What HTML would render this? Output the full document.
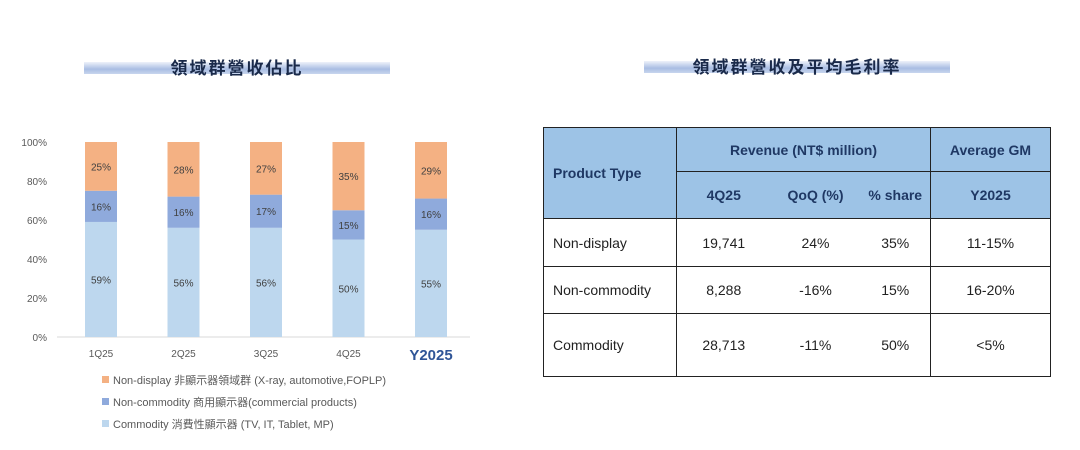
<!DOCTYPE html>
<html><head><meta charset="utf-8"><style>
body{margin:0;width:1080px;height:450px;background:#fff;position:relative;overflow:hidden;font-family:"Liberation Sans","Noto Sans CJK TC",sans-serif}
.tb{position:absolute;height:12px;background:linear-gradient(#eef2fa,#a9bde3 60%,#c8d5ee)}
.tt{position:absolute;font-size:17px;font-weight:bold;color:#1a2a4a;text-align:center;letter-spacing:2px;font-family:"Noto Sans CJK TC",sans-serif}
table{position:absolute;left:543px;top:127px;width:507px;table-layout:fixed;border-collapse:collapse;font-size:14px;color:#222}
td{border:1.5px solid #222;padding:0;text-align:center;white-space:nowrap;overflow:hidden}
.h{background:#9dc3e6;color:#1f3864;font-weight:bold}
.nb{border-left:none;border-right:none}
</style></head><body>
<div class="tb" style="left:84px;top:62px;width:306px"></div>
<div class="tt" style="left:84px;top:54px;width:306px">領域群營收佔比</div>
<div class="tb" style="left:644px;top:61px;width:306px"></div>
<div class="tt" style="left:644px;top:53px;width:306px">領域群營收及平均毛利率</div>
<svg id="chart" width="480" height="450" style="position:absolute;left:0;top:0"></svg>
<table>
<colgroup><col style="width:133px"><col style="width:94px"><col style="width:90px"><col style="width:70px"><col style="width:120px"></colgroup>
<tr style="height:44px"><td class="h" rowspan="2" style="text-align:left;padding-left:9px">Product Type</td><td class="h" colspan="3">Revenue (NT$ million)</td><td class="h">Average GM</td></tr>
<tr style="height:47px"><td class="h" style="border-right:none">4Q25</td><td class="h" style="border-left:none;border-right:none">QoQ (%)</td><td class="h" style="border-left:none">% share</td><td class="h">Y2025</td></tr>
<tr style="height:48px"><td style="text-align:left;padding-left:9px">Non-display</td><td style="border-right:none">19,741</td><td class="nb">24%</td><td style="border-left:none">35%</td><td>11-15%</td></tr>
<tr style="height:47px"><td style="text-align:left;padding-left:9px">Non-commodity</td><td style="border-right:none">8,288</td><td class="nb">-16%</td><td style="border-left:none">15%</td><td>16-20%</td></tr>
<tr style="height:63px"><td style="text-align:left;padding-left:9px">Commodity</td><td style="border-right:none">28,713</td><td class="nb">-11%</td><td style="border-left:none">50%</td><td>&lt;5%</td></tr>
</table>
<script>
const categories=["1Q25","2Q25","3Q25","4Q25","Y2025"];
const commodity=[59,56,56,50,55];
const nonCommodity=[16,16,17,15,16];
const nonDisplay=[25,28,27,35,29];
const yTicks=[0,20,40,60,80,100];
const legendLabels=["Non-display 非顯示器領域群 (X-ray, automotive,FOPLP)","Non-commodity 商用顯示器(commercial products)","Commodity 消費性顯示器 (TV, IT, Tablet, MP)"];
const NS="http://www.w3.org/2000/svg";
const svg=document.getElementById('chart');
const y0=337,y1=142;
const yS=v=>y0-(y0-y1)*v/100;
const xC=i=>101+i*82.5;
const bw=32;
function mk(t,a,p){const e=document.createElementNS(NS,t);for(const k in a)e.setAttribute(k,a[k]);(p||svg).appendChild(e);return e;}
const tf='font-family:"Liberation Sans",sans-serif;font-size:10px;fill:#595959';
yTicks.forEach(v=>{const t=mk('text',{x:47,y:yS(v)+4,'text-anchor':'end',style:tf});t.textContent=v+'%';

});
const ax=mk('line',{x1:57,x2:470,y1:y0,y2:y0,stroke:'#d9d9d9','stroke-width':1});


const series=[[commodity,'#bdd7ee','commodity'],[nonCommodity,'#8faadc','non-commodity'],[nonDisplay,'#f4b183','non-display']];
categories.forEach((c,i)=>{let acc=0;
series.forEach(([vals,col,nm])=>{const v=vals[i];const top=yS(acc+v),bot=yS(acc);
const r=mk('rect',{x:xC(i)-bw/2,y:top,width:bw,height:bot-top,fill:col});


const t=mk('text',{x:xC(i),y:(top+bot)/2+4,'text-anchor':'middle',style:tf.replace('#595959','#404040')});t.textContent=v+'%';


acc+=v;});
const big=c==='Y2025';
const t=mk('text',{x:xC(i),y:big?360:357,'text-anchor':'middle',style:big?'font-family:"Liberation Sans",sans-serif;font-size:15px;font-weight:bold;fill:#2f5597':tf});t.textContent=c;


});
const lc=['#f4b183','#8faadc','#bdd7ee'];
legendLabels.forEach((l,i)=>{const y=380+i*22;
const r=mk('rect',{x:102,y:y-4,width:7,height:7,fill:lc[i]});


const t=mk('text',{x:113,y:y+4,style:'font-family:"Liberation Sans","Noto Sans CJK TC",sans-serif;font-size:11px;fill:#595959'});t.textContent=l;

});
</script>
</body></html>
